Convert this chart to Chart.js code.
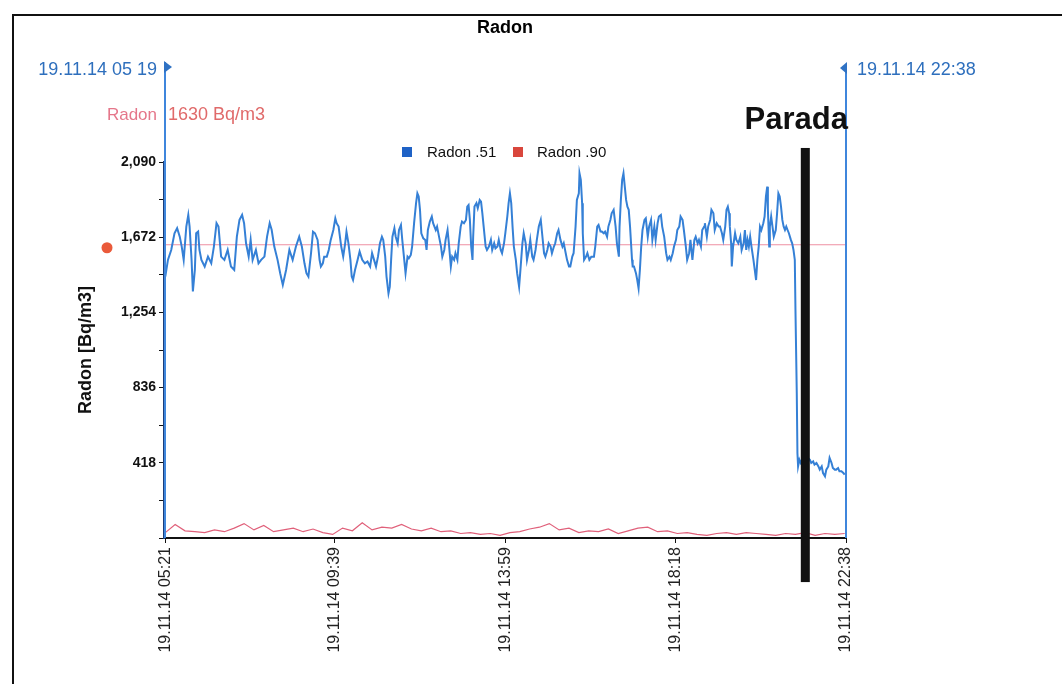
<!DOCTYPE html>
<html><head><meta charset="utf-8">
<script src="https://cdn.jsdelivr.net/npm/chart.js@4.4.0/dist/chart.umd.min.js"></script>
<style>html,body{margin:0;padding:0;background:#fff}#wrap{width:1062px;height:684px}</style>
</head><body><div id="wrap"><canvas id="c" width="1062" height="684"></canvas></div>
<script>
// ---- data (minutes after 19.11.14 05:21) ----
const blueMinutes = [0,4,9,14,18,22,25,28,32,35,37,40,42,45,47,50,52,55,60,65,70,74,78,81,85,90,95,100,105,109,113,117,120,123,127,130,133,138,142,146,151,155,159,162,166,171,175,179,184,189,194,199,204,
208,212,215,218,222,225,228,232,235,237,240,242,246,249,252,256,259,261,264,268,271,274,276,279,282,284,286,289,293,296,300,304,308,312,315,318,321,324,327,330,332,335,337,340,342,344,346,349,351,354,356,359,361,364,366,369,371,374,376,379,382,384,386,388,390,393,396,398,400,403,406,
408,412,414,417,420,422,425,427,430,432,435,437,440,442,445,447,450,452,455,458,460,462,464,466,468,469,471,474,476,479,481,483,485,488,490,493,496,498,501,503,506,508,511,513,516,518,521,523,525,527,529,531,534,536,539,541,544,546,549,551,554,556,559,561,564,566,569,572,574,577,579,582,584,587,589,592,594,597,599,602,605,607,610,612,615,
617,620,622,625,627,630,631,633,635,636,638,641,643,646,649,653,655,658,660,663,665,668,670,673,675,678,680,683,686,688,691,692,694,696,698,700,702,704,706,708,711,712,714,717,719,721,723,725,727,730,732,735,737,740,742,745,747,750,752,755,757,760,763,765,768,770,773,775,778,780,783,785,788,790,793,795,798,800,803,806,808,811,813,816,818,821,
822,825,827,830,832,835,837,840,843,845,848,850,853,855,857,859,860,862,863,865,868,870,873,876,878,881,883,885,887,889,891,893,896,898,900,902,904,906,908,911,913,915,917,918,920,921,923,925,927,930,932,934,936,938,940,942,944,946,948,950,953,955,957,959,960,962,963,964,966,968,972,976,979,982,984,987,989,992,995,997,1000,1002,1005,1007,1010,1012,1015,1017,1020,1022,1025,1027,1030,1033,1035];
const radon51 = [1453,1546,1601,1694,1722,1675,1620,1546,1731,1796,1731,1546,1370,1490,1694,1703,1601,1546,1509,1564,1527,1620,1750,1731,1564,1546,1601,1509,1490,1675,1768,1796,1750,1638,1564,1657,1546,1601,1527,1546,1564,1675,1750,1713,1620,1546,1472,1407,1490,1601,1546,1620,1675,
1620,1527,1472,1453,1583,1703,1694,1657,1546,1509,1527,1564,1564,1601,1657,1712,1777,1750,1731,1620,1564,1638,1703,1638,1546,1453,1434,1490,1546,1592,1546,1527,1537,1509,1583,1546,1509,1564,1638,1675,1657,1564,1453,1360,1397,1546,1675,1722,1675,1638,1712,1740,1657,1546,1472,1564,1555,1573,1620,1750,1861,1916,1898,1824,1694,1666,1657,1601,1712,1759,1787,
1750,1712,1731,1675,1620,1564,1601,1657,1712,1638,1509,1564,1546,1583,1546,1638,1731,1759,1750,1768,1842,1851,1768,1620,1546,1675,1842,1861,1833,1879,1870,1805,1731,1620,1601,1620,1657,1601,1638,1610,1620,1657,1601,1583,1638,1694,1787,1861,1916,1861,1731,1620,1546,1472,1397,1490,1638,1694,1638,1546,1601,1657,1564,1546,1601,1657,1731,1768,1694,1583,1564,1601,1638,1620,1583,1620,1638,1694,1712,1657,1620,1638,1583,1546,1509,
1509,1564,1583,1731,1879,1916,2027,1990,1861,1694,1546,1564,1583,1546,1564,1564,1620,1731,1740,1703,1703,1694,1703,1675,1731,1768,1805,1824,1731,1638,1564,1731,1879,1990,2027,1953,1879,1842,1824,1731,1546,1509,1509,1472,1434,1388,1490,1620,1712,1768,1777,1675,1731,1768,1657,1731,1657,1750,1787,1796,1731,1675,1583,1546,1564,1546,1583,1620,1657,1712,1731,1787,1768,1712,1620,1546,1583,1657,1546,1657,1675,1638,1657,1620,1712,1731,
1750,1675,1731,1768,1824,1805,1712,1750,1731,1731,1694,1657,1731,1824,1842,1805,1731,1638,1509,1620,1694,1657,1638,1675,1601,1638,1712,1601,1657,1620,1675,1620,1546,1490,1434,1546,1620,1731,1712,1750,1787,1898,1953,1824,1620,1731,1787,1731,1675,1712,1805,1916,1898,1842,1768,1731,1712,1731,1712,1694,1657,1638,1601,1546,1268,805,472,398,435,417,445,454,445,435,417,426,408,417,398,380,398,361,343,380,398,445,417,389,380,380,389,371,371,361,352];
const redStepMinutes = 15;
const radon90 = [30,75,40,35,30,45,35,55,80,45,70,35,45,55,35,50,30,20,55,40,85,45,60,55,75,50,40,55,35,40,25,30,20,25,15,30,35,50,60,80,45,55,30,40,35,50,25,40,55,60,35,40,25,30,20,15,25,30,20,30,25,20,15,25,20,30,15,25,20,25];
const xTickMinutes = [0,258,518,777,1037];
const xTickLabels = ['19.11.14 05:21','19.11.14 09:39','19.11.14 13:59','19.11.14 18:18','19.11.14 22:38'];
const yTickValues = [0,209,418,627,836,1045,1254,1463,1672,1881,2090];
const yLabelledValues = [418,836,1254,1672,2090];
const threshold = 1630;
const cursorStart = -2, cursorEnd = 1037;
const cursorStartLabel = '19.11.14 05 19', cursorEndLabel = '19.11.14 22:38';
const stopMinute = 975;
const seriesNames = ['Radon .51','Radon .90'];

const FONT = '"Liberation Sans", Arial, sans-serif';
const blueData = blueMinutes.map((m,i)=>({x:m,y:radon51[i]}));
const redData = radon90.map((v,i)=>({x:i*redStepMinutes,y:v}));

const overlay = {
  id:'overlay',
  beforeDraw(chart){
    const c = chart.ctx; c.save(); c.fillStyle='#fff'; c.fillRect(0,0,chart.width,chart.height); c.restore();
  },
  beforeDatasetsDraw(chart){
    const c=chart.ctx, a=chart.chartArea, y=chart.scales.y;
    c.save();
    c.strokeStyle='#ee8fa2'; c.lineWidth=1.2;
    const ty=y.getPixelForValue(threshold);
    c.beginPath(); c.moveTo(a.left,ty); c.lineTo(a.right,ty); c.stroke();
    c.restore();
  },
  afterDraw(chart){
    const c=chart.ctx, a=chart.chartArea, x=chart.scales.x, y=chart.scales.y;
    c.save();
    // frame
    c.strokeStyle='#111'; c.lineWidth=2;
    c.beginPath(); c.moveTo(13,chart.height); c.lineTo(13,15); c.lineTo(chart.width,15); c.stroke();
    // title
    c.fillStyle='#000'; c.font='bold 18px '+FONT; c.textAlign='center'; c.textBaseline='middle';
    c.fillText('Radon',(a.left+a.right)/2,28);
    // cursor lines
    const topY = 62;
    const xs = x.getPixelForValue(cursorStart), xe = x.getPixelForValue(cursorEnd);
    c.strokeStyle='#3f86dc'; c.lineWidth=2;
    c.beginPath(); c.moveTo(xs+1,topY); c.lineTo(xs+1,a.bottom); c.stroke();
    c.beginPath(); c.moveTo(xe,topY+2); c.lineTo(xe,a.bottom); c.stroke();
    c.fillStyle='#2f72c4';
    c.beginPath(); c.moveTo(xs,topY-1); c.lineTo(xs+8,topY+5); c.lineTo(xs,topY+11); c.closePath(); c.fill();
    c.beginPath(); c.moveTo(xe+1,topY); c.lineTo(xe-6,topY+6); c.lineTo(xe+1,topY+12); c.closePath(); c.fill();
    c.font='18px '+FONT; c.textBaseline='middle';
    c.fillStyle='#2e6fbd';
    c.textAlign='right'; c.fillText(cursorStartLabel, xs-7, 70);
    c.textAlign='left'; c.fillText(cursorEndLabel, xe+11, 70);
    // threshold label & dot
    const ty=y.getPixelForValue(threshold);
    c.fillStyle='#e5768a'; c.font='17px '+FONT;
    c.textAlign='right'; c.fillText('Radon', xs-7, 115);
    c.fillStyle='#e06a6a'; c.font='18px '+FONT; c.textAlign='left'; c.fillText('1630 Bq/m3', xs+4, 115);
    c.fillStyle='#ea5a3a'; c.beginPath(); c.arc(107,ty+3,5.5,0,Math.PI*2); c.fill();
    // stop bar
    const bx = x.getPixelForValue(stopMinute);
    c.fillStyle='#111';
    const by1=y.getPixelForValue(2168), by2=y.getPixelForValue(-245);
    c.fillRect(bx-4.5,by1,9,by2-by1);
    c.font='bold 31px '+FONT; c.textAlign='right'; c.textBaseline='alphabetic';
    c.fillText('Parada', xe+2, 129);
    // legend
    c.font='15px '+FONT; c.textBaseline='middle'; c.textAlign='left';
    c.fillStyle='#1f62c6'; c.fillRect(402,147,10,10);
    c.fillStyle='#111'; c.fillText(seriesNames[0],427,153);
    c.fillStyle='#d9463c'; c.fillRect(513,147,10,10);
    c.fillStyle='#111'; c.fillText(seriesNames[1],537,153);
    c.restore();
  }
};

new Chart(document.getElementById('c'),{
  type:'line',
  data:{datasets:[
    {label:seriesNames[1],data:redData,borderColor:'#e0607a',borderWidth:1.2,pointRadius:0,tension:0,fill:false},
    {label:seriesNames[0],data:blueData,borderColor:'#3580d6',borderWidth:2,pointRadius:0,tension:0,fill:false}
  ]},
  options:{
    responsive:false,animation:false,
    layout:{padding:{left:75,right:216,top:162,bottom:0}},
    plugins:{legend:{display:false},tooltip:{enabled:false},title:{display:false}},
    scales:{
      x:{type:'linear',min:cursorStart,max:cursorEnd,
        afterBuildTicks:s=>{s.ticks=xTickMinutes.map(v=>({value:v}));},
        afterFit:s=>{s.height=146;},
        border:{color:'#111',width:2},
        grid:{drawOnChartArea:false,drawTicks:true,tickLength:5,color:'#111'},
        ticks:{minRotation:90,maxRotation:90,autoSkip:false,padding:4,color:'#222',font:{family:FONT,size:16},
          callback:(v,i)=>xTickLabels[i]}},
      y:{type:'linear',min:0,max:2090,
        afterBuildTicks:s=>{s.ticks=yTickValues.map(v=>({value:v}));},
        afterFit:s=>{s.width=89;},
        border:{color:'#1b3d7a',width:2},
        grid:{drawOnChartArea:false,drawTicks:true,tickLength:5,color:'#111'},
        title:{display:true,text:'Radon [Bq/m3]',color:'#111',font:{family:FONT,size:18,weight:'bold'},padding:{top:0,bottom:0}},
        ticks:{autoSkip:false,padding:3,color:'#111',font:{family:FONT,size:14,weight:'bold'},
          callback:v=>yLabelledValues.includes(v)?v.toLocaleString('en-US'):''}}
    }
  },
  plugins:[overlay]
});
</script></body></html>
